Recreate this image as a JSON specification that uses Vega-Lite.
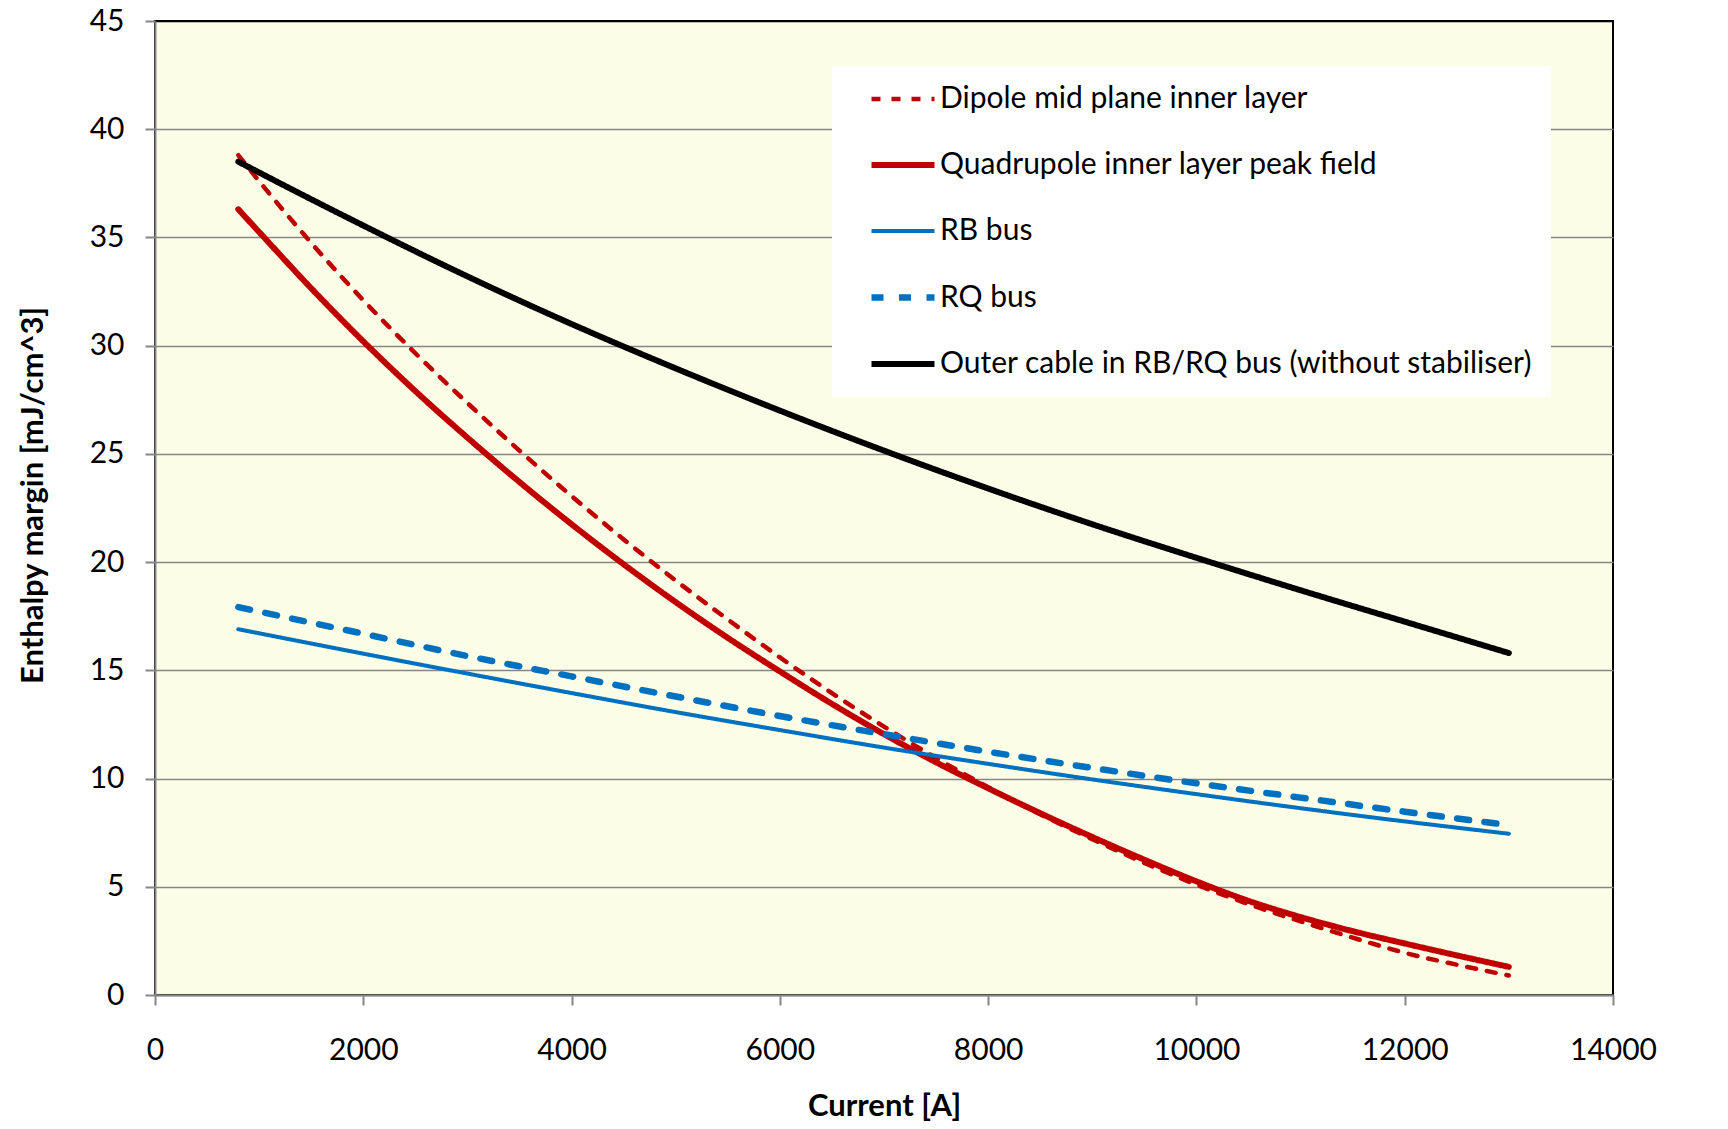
{
  "$schema": "https://vega.github.io/schema/vega-lite/v6.json",
  "autosize": {"type": "none"},
  "padding": {"left": 155, "top": 21, "right": 115, "bottom": 134},
  "width": 1458,
  "height": 974,
  "background": "white",
  "config": {
    "font": "Lato",
    "view": {"fill": "#FBFDE6", "stroke": "black", "strokeWidth": 2},
    "axis": {"labelFont": "Lato", "labelFontSize": 30, "labelColor": "black", "titleFont": "Lato", "titleFontSize": 31, "titleFontWeight": "bold", "titleColor": "black", "domainColor": "#868686", "domainWidth": 2, "tickColor": "#868686", "tickWidth": 2, "tickSize": 10},
    "legend": {"labelFont": "Lato", "labelFontSize": 30, "labelColor": "black", "labelLimit": 0}
  },
  "data": {"values": [
    {"I": 800, "E": 38.8, "s": "Dipole mid plane inner layer"},
    {"I": 1000, "E": 37.6, "s": "Dipole mid plane inner layer"},
    {"I": 1500, "E": 34.75, "s": "Dipole mid plane inner layer"},
    {"I": 2000, "E": 32.1, "s": "Dipole mid plane inner layer"},
    {"I": 2500, "E": 29.65, "s": "Dipole mid plane inner layer"},
    {"I": 3000, "E": 27.35, "s": "Dipole mid plane inner layer"},
    {"I": 3500, "E": 25.15, "s": "Dipole mid plane inner layer"},
    {"I": 4000, "E": 23.05, "s": "Dipole mid plane inner layer"},
    {"I": 4500, "E": 21.05, "s": "Dipole mid plane inner layer"},
    {"I": 5000, "E": 19.15, "s": "Dipole mid plane inner layer"},
    {"I": 5500, "E": 17.35, "s": "Dipole mid plane inner layer"},
    {"I": 6000, "E": 15.6, "s": "Dipole mid plane inner layer"},
    {"I": 6500, "E": 13.95, "s": "Dipole mid plane inner layer"},
    {"I": 7000, "E": 12.4, "s": "Dipole mid plane inner layer"},
    {"I": 7500, "E": 10.95, "s": "Dipole mid plane inner layer"},
    {"I": 8000, "E": 9.6, "s": "Dipole mid plane inner layer"},
    {"I": 8500, "E": 8.35, "s": "Dipole mid plane inner layer"},
    {"I": 9000, "E": 7.2, "s": "Dipole mid plane inner layer"},
    {"I": 9500, "E": 6.1, "s": "Dipole mid plane inner layer"},
    {"I": 10000, "E": 5.1, "s": "Dipole mid plane inner layer"},
    {"I": 10500, "E": 4.2, "s": "Dipole mid plane inner layer"},
    {"I": 11000, "E": 3.4, "s": "Dipole mid plane inner layer"},
    {"I": 11500, "E": 2.65, "s": "Dipole mid plane inner layer"},
    {"I": 12000, "E": 1.95, "s": "Dipole mid plane inner layer"},
    {"I": 12500, "E": 1.4, "s": "Dipole mid plane inner layer"},
    {"I": 13000, "E": 0.9, "s": "Dipole mid plane inner layer"},
    {"I": 800, "E": 36.3, "s": "Quadrupole inner layer peak field"},
    {"I": 1000, "E": 35.25, "s": "Quadrupole inner layer peak field"},
    {"I": 1500, "E": 32.65, "s": "Quadrupole inner layer peak field"},
    {"I": 2000, "E": 30.2, "s": "Quadrupole inner layer peak field"},
    {"I": 2500, "E": 27.9, "s": "Quadrupole inner layer peak field"},
    {"I": 3000, "E": 25.75, "s": "Quadrupole inner layer peak field"},
    {"I": 3500, "E": 23.7, "s": "Quadrupole inner layer peak field"},
    {"I": 4000, "E": 21.75, "s": "Quadrupole inner layer peak field"},
    {"I": 4500, "E": 19.9, "s": "Quadrupole inner layer peak field"},
    {"I": 5000, "E": 18.15, "s": "Quadrupole inner layer peak field"},
    {"I": 5500, "E": 16.5, "s": "Quadrupole inner layer peak field"},
    {"I": 6000, "E": 14.95, "s": "Quadrupole inner layer peak field"},
    {"I": 6500, "E": 13.45, "s": "Quadrupole inner layer peak field"},
    {"I": 7000, "E": 12.05, "s": "Quadrupole inner layer peak field"},
    {"I": 7500, "E": 10.75, "s": "Quadrupole inner layer peak field"},
    {"I": 8000, "E": 9.55, "s": "Quadrupole inner layer peak field"},
    {"I": 8500, "E": 8.4, "s": "Quadrupole inner layer peak field"},
    {"I": 9000, "E": 7.3, "s": "Quadrupole inner layer peak field"},
    {"I": 9500, "E": 6.25, "s": "Quadrupole inner layer peak field"},
    {"I": 10000, "E": 5.25, "s": "Quadrupole inner layer peak field"},
    {"I": 10500, "E": 4.35, "s": "Quadrupole inner layer peak field"},
    {"I": 11000, "E": 3.6, "s": "Quadrupole inner layer peak field"},
    {"I": 11500, "E": 2.95, "s": "Quadrupole inner layer peak field"},
    {"I": 12000, "E": 2.38, "s": "Quadrupole inner layer peak field"},
    {"I": 12500, "E": 1.83, "s": "Quadrupole inner layer peak field"},
    {"I": 13000, "E": 1.3, "s": "Quadrupole inner layer peak field"},
    {"I": 800, "E": 16.9, "s": "RB bus"},
    {"I": 2000, "E": 15.77, "s": "RB bus"},
    {"I": 3000, "E": 14.85, "s": "RB bus"},
    {"I": 4000, "E": 13.95, "s": "RB bus"},
    {"I": 5000, "E": 13.07, "s": "RB bus"},
    {"I": 6000, "E": 12.24, "s": "RB bus"},
    {"I": 7000, "E": 11.43, "s": "RB bus"},
    {"I": 8000, "E": 10.68, "s": "RB bus"},
    {"I": 9000, "E": 9.96, "s": "RB bus"},
    {"I": 10000, "E": 9.28, "s": "RB bus"},
    {"I": 11000, "E": 8.63, "s": "RB bus"},
    {"I": 12000, "E": 8.02, "s": "RB bus"},
    {"I": 13000, "E": 7.45, "s": "RB bus"},
    {"I": 800, "E": 17.92, "s": "RQ bus"},
    {"I": 2000, "E": 16.69, "s": "RQ bus"},
    {"I": 3000, "E": 15.66, "s": "RQ bus"},
    {"I": 4000, "E": 14.72, "s": "RQ bus"},
    {"I": 5000, "E": 13.79, "s": "RQ bus"},
    {"I": 6000, "E": 12.89, "s": "RQ bus"},
    {"I": 7000, "E": 12.05, "s": "RQ bus"},
    {"I": 8000, "E": 11.24, "s": "RQ bus"},
    {"I": 9000, "E": 10.49, "s": "RQ bus"},
    {"I": 10000, "E": 9.78, "s": "RQ bus"},
    {"I": 11000, "E": 9.12, "s": "RQ bus"},
    {"I": 12000, "E": 8.47, "s": "RQ bus"},
    {"I": 13000, "E": 7.85, "s": "RQ bus"},
    {"I": 800, "E": 38.5, "s": "Outer cable in RB/RQ bus (without stabiliser)"},
    {"I": 1000, "E": 38.0, "s": "Outer cable in RB/RQ bus (without stabiliser)"},
    {"I": 2000, "E": 35.55, "s": "Outer cable in RB/RQ bus (without stabiliser)"},
    {"I": 3000, "E": 33.2, "s": "Outer cable in RB/RQ bus (without stabiliser)"},
    {"I": 4000, "E": 31.0, "s": "Outer cable in RB/RQ bus (without stabiliser)"},
    {"I": 5000, "E": 28.95, "s": "Outer cable in RB/RQ bus (without stabiliser)"},
    {"I": 6000, "E": 27.0, "s": "Outer cable in RB/RQ bus (without stabiliser)"},
    {"I": 7000, "E": 25.15, "s": "Outer cable in RB/RQ bus (without stabiliser)"},
    {"I": 8000, "E": 23.4, "s": "Outer cable in RB/RQ bus (without stabiliser)"},
    {"I": 9000, "E": 21.75, "s": "Outer cable in RB/RQ bus (without stabiliser)"},
    {"I": 10000, "E": 20.2, "s": "Outer cable in RB/RQ bus (without stabiliser)"},
    {"I": 11000, "E": 18.7, "s": "Outer cable in RB/RQ bus (without stabiliser)"},
    {"I": 12000, "E": 17.25, "s": "Outer cable in RB/RQ bus (without stabiliser)"},
    {"I": 13000, "E": 15.8, "s": "Outer cable in RB/RQ bus (without stabiliser)"}
  ]},
  "mark": {"type": "line", "interpolate": "monotone", "strokeCap": "round"},
  "encoding": {
    "x": {"field": "I", "type": "quantitative", "scale": {"domain": [0, 14000], "nice": false},
      "axis": {"values": [0, 2000, 4000, 6000, 8000, 10000, 12000, 14000], "format": "d", "title": "Current [A]", "grid": false, "labelPadding": 30, "labelFlush": false, "titleBaseline": "alphabetic", "titleY": 120, "titleX": 729}},
    "y": {"field": "E", "type": "quantitative", "scale": {"domain": [0, 45], "nice": false},
      "axis": {"values": [0, 5, 10, 15, 20, 25, 30, 35, 40, 45], "title": "Enthalpy margin [mJ/cm^3]", "grid": true, "gridColor": {"condition": {"test": "datum.value === 45", "value": "black"}, "value": "#868686"}, "gridWidth": 1.5, "labelPadding": 21, "labelFlush": false, "titleBaseline": "alphabetic", "titleX": -113, "titleY": 474}},
    "color": {"field": "s", "type": "nominal",
      "scale": {"domain": ["Dipole mid plane inner layer", "Quadrupole inner layer peak field", "RB bus", "RQ bus", "Outer cable in RB/RQ bus (without stabiliser)"], "range": ["#C00000", "#C00000", "#0070C0", "#0070C0", "#000000"]},
      "legend": {"title": null, "orient": "none", "legendX": 677, "legendY": 45, "fillColor": "white", "padding": 18, "rowPadding": 36, "symbolType": "M0.5,0H5.75", "symbolSize": 576, "labelOffset": 59, "labelLimit": 0}},
    "strokeDash": {"field": "s", "type": "nominal",
      "scale": {"domain": ["Dipole mid plane inner layer", "Quadrupole inner layer peak field", "RB bus", "RQ bus", "Outer cable in RB/RQ bus (without stabiliser)"], "range": [[9, 11], [1, 0], [1, 0], [12, 15.5], [1, 0]]},
      "legend": {"title": null, "orient": "none", "legendX": 677, "legendY": 45, "fillColor": "white", "padding": 18, "rowPadding": 36, "symbolType": "M0.5,0H5.75", "symbolSize": 576, "labelOffset": 59, "labelLimit": 0}},
    "strokeWidth": {"field": "s", "type": "nominal",
      "scale": {"type": "ordinal", "domain": ["Dipole mid plane inner layer", "Quadrupole inner layer peak field", "RB bus", "RQ bus", "Outer cable in RB/RQ bus (without stabiliser)"], "range": [4.5, 6, 4, 6.5, 6]},
      "legend": {"title": null, "orient": "none", "legendX": 677, "legendY": 45, "fillColor": "white", "padding": 18, "rowPadding": 36, "symbolType": "M0.5,0H5.75", "symbolSize": 576, "labelOffset": 59, "labelLimit": 0}}
  }
}
